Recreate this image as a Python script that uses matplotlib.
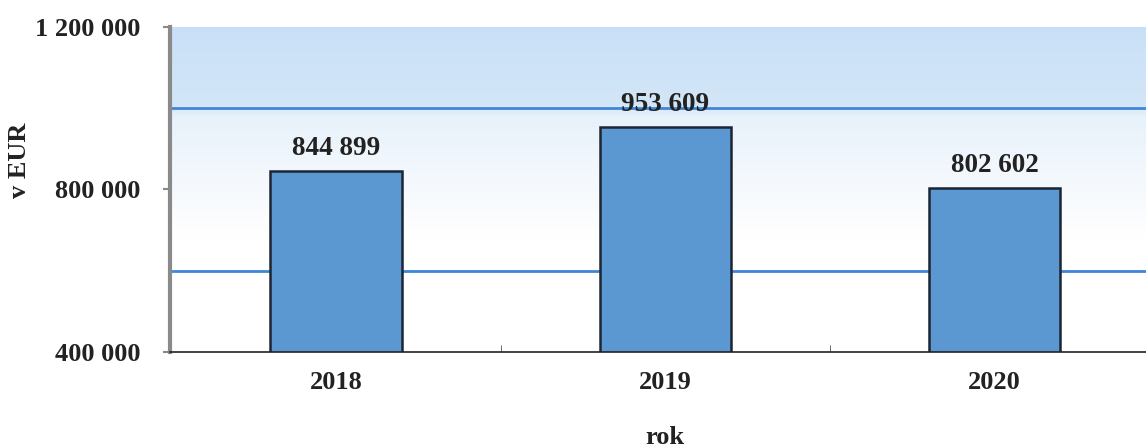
import numpy as np
import matplotlib.pyplot as plt
from matplotlib.colors import LinearSegmentedColormap

years = ["2018", "2019", "2020"]
values = [844899, 953609, 802602]
labels = ["844 899", "953 609", "802 602"]
yticks = [400000, 800000, 1200000]
ytick_labels = ["400 000", "800 000", "1 200 000"]
grid_vals = [600000, 1000000]

plt.rcParams["font.family"] = ["Liberation Serif", "DejaVu Serif"]
plt.rcParams["font.weight"] = "bold"

fig = plt.figure(figsize=(11.46, 4.48), dpi=100)
ax = fig.add_axes([170 / 1146, 1 - 352 / 448, 1 - 170 / 1146, 325 / 448])

x = np.arange(len(years))
ax.set_xlim(-0.505, 2.46)
ax.set_ylim(400000, 1200000)

# background gradient: light blue at top fading to white
grad = np.linspace(0, 1, 256).reshape(-1, 1)
cmap = LinearSegmentedColormap.from_list(
    "bg", [(0, "#ffffff"), (0.35, "#ffffff"), (0.72, "#e8f2fb"), (0.76, "#d3e6f8"), (1, "#c8e0f7")])
ax.imshow(grad, cmap=cmap, aspect="auto", origin="lower",
          extent=[-0.505, 2.46, 400000, 1200000], zorder=0)

for g in grid_vals:
    ax.axhline(g, color="#3d86d8", lw=2, zorder=1)

bars = ax.bar(x, values, width=0.4, color="#5b97d0", edgecolor="#1c2533",
              linewidth=1.8, zorder=2)
for b, lab in zip(bars, labels):
    ax.text(b.get_x() + b.get_width() / 2, b.get_height() + 25000, lab,
            ha="center", va="bottom", fontsize=19.5, fontweight="bold", color="#222222")

ax.set_xticks(x)
ax.set_xticklabels(years, fontsize=19, fontweight="bold", color="#222222")
ax.set_xticks([0.5, 1.5], minor=True)
ax.tick_params(axis="x", which="major", length=0, pad=14)
ax.tick_params(axis="x", which="minor", length=5, direction="in", color="#555555")

ax.set_yticks(yticks)
ax.set_yticklabels(ytick_labels, fontsize=19, fontweight="bold", color="#222222")
ax.tick_params(axis="y", length=5, color="#888888", width=1.5, pad=16)

ax.spines["top"].set_visible(False)
ax.spines["right"].set_visible(False)
ax.spines["left"].set_color("#8a8a8a")
ax.spines["left"].set_linewidth(3)
ax.spines["bottom"].set_color("#222222")
ax.spines["bottom"].set_linewidth(1.2)

fig.text(665 / 1146, 1 - 437 / 448, "rok", ha="center", va="center",
         fontsize=19, fontweight="bold", color="#222222")
fig.text(20 / 1146, 1 - 160 / 448, "v EUR", rotation=90, ha="center", va="center",
         fontsize=19, fontweight="bold", color="#222222")

fig.savefig("out.png", dpi=100)
